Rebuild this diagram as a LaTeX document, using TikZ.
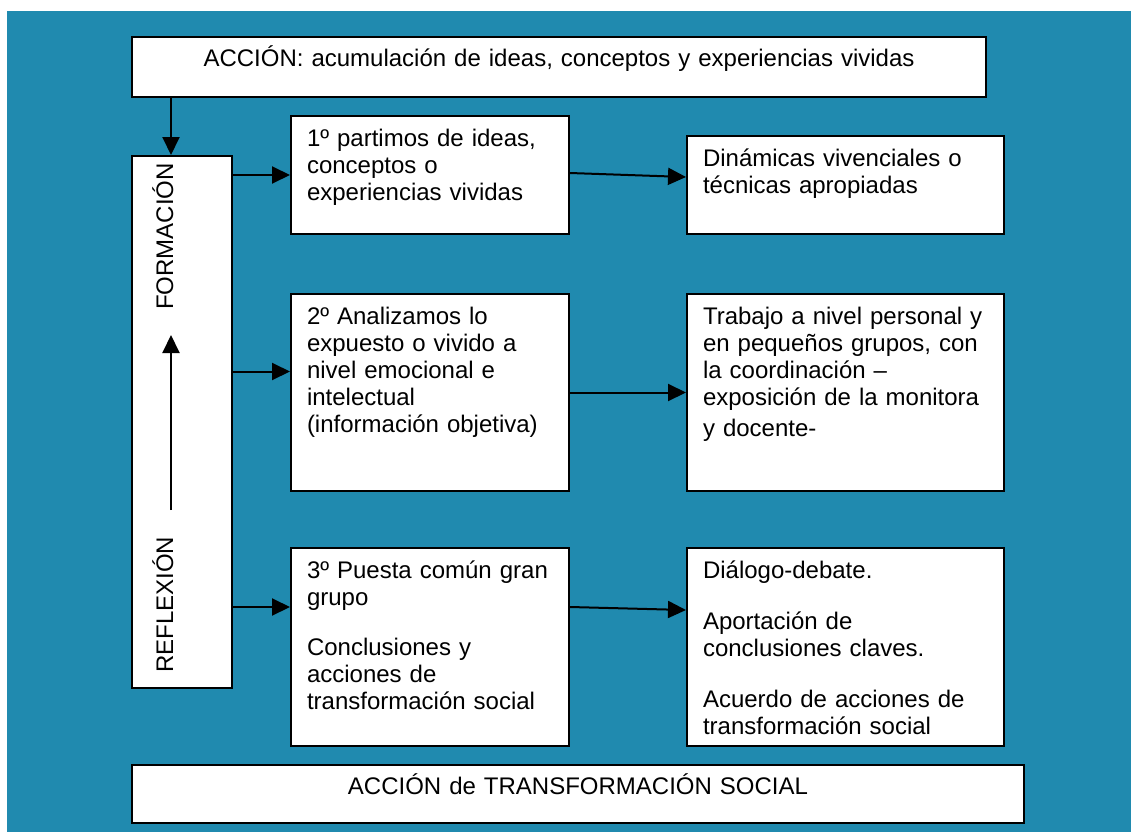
\documentclass[tikz,border=0pt]{standalone}
\usepackage{fontspec}
\setmainfont{Liberation Sans}
\usepackage{tikz}
\usetikzlibrary{arrows.meta, calc}
\usepackage{xcolor}
\definecolor{fondo}{RGB}{32,138,175}

\tikzset{
    caja/.style={draw=black, line width=2pt, fill=white, anchor=north west, align=left,
        inner xsep=16pt, inner ysep=0pt, text height=30pt, font=\fontsize{24}{27}\selectfont},
    flecha/.style={line width=2pt, -{Triangle[length=18pt, width=17pt]}},
    vertical/.style={rotate=90, anchor=base west, inner sep=0pt, font=\fontsize{24}{27}\selectfont}
}

\begin{document}
\begin{tikzpicture}[x=1pt, y=-1pt]
            \fill[white] (0,0) rectangle (1131,832);
            \fill[fondo] (7,11) rectangle (1131,832);
            \useasboundingbox (0,0) rectangle (1131,832);

            \node[caja, align=center, text width=822pt, text depth=30pt] (accion) at (131,36) {ACCIÓN: acumulación de ideas, conceptos y experiencias vividas};
            \node[caja, minimum width=100pt, text depth=502pt] (formacion) at (131,155) {};

            \node[caja, text width=246pt, text depth=88pt] (paso1) at (290,115) {1º partimos de ideas,\\conceptos o\\experiencias vividas};
            \node[caja, text width=246pt, text depth=167pt] (paso2) at (290,293) {2º Analizamos lo\\expuesto o vivido a\\nivel emocional e\\intelectual\\(información objetiva)};
            \node[caja, text width=246pt, text depth=168pt] (paso3) at (290,547) {3º Puesta común gran\\grupo\\[23pt]Conclusiones y\\acciones de\\transformación social};

            \node[caja, text width=285pt, text depth=68pt] (dinamicas) at (686,135) {Dinámicas vivenciales o\\técnicas apropiadas};
            \node[caja, text width=285pt, text depth=167pt] (trabajo) at (686,293) {Trabajo a nivel personal y\\en pequeños grupos, con\\la coordinación –\\exposición de la monitora\\[4pt]y docente-};
            \node[caja, text width=285pt, text depth=168pt] (dialogo) at (686,547) {Diálogo-debate.\\[24pt]Aportación de\\conclusiones claves.\\[24pt]Acuerdo de acciones de\\transformación social};

            \node[caja, align=center, text width=860pt, text height=29pt, text depth=29pt] (transformacion) at (131,764) {ACCIÓN de TRANSFORMACIÓN SOCIAL};

            \node[vertical] (tformacion) at (173,310) {FORMACIÓN};
            \node[vertical] (treflexion) at (173,673) {REFLEXIÓN};
            \coordinate (reflini) at (171,510);
            \coordinate (reflfin) at (171,335);
            \draw[flecha] (reflini) -- (reflfin);

            \draw[flecha] ([xshift=40pt]accion.south west) -- ([xshift=40pt]formacion.north west);

            \draw[flecha] (formacion.east |- paso1.west) -- (paso1.west);
            \draw[flecha] ($(formacion.east |- paso2.west)+(0,-21)$) -- ($(paso2.west)+(0,-21)$);
            \draw[flecha] ($(formacion.east |- paso3.west)+(0,-40)$) -- ($(paso3.west)+(0,-40)$);

            \draw[flecha] ($(paso1.east)+(0,-2)$) -- ($(dinamicas.west)+(0,-8)$);
            \draw[flecha] (paso2.east) -- (trabajo.west);
            \draw[flecha] ($(paso3.east)+(0,-40)$) -- ($(dialogo.west)+(0,-37)$);
\end{tikzpicture}
\end{document}
